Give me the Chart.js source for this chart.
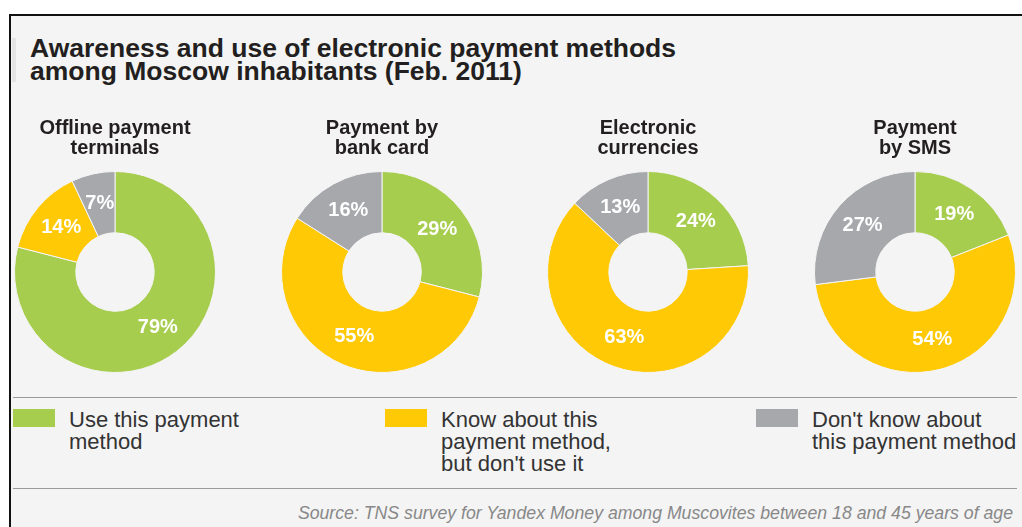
<!DOCTYPE html>
<html>
<head>
<meta charset="utf-8">
<script src="https://cdn.jsdelivr.net/npm/chart.js@4.4.1/dist/chart.umd.min.js"></script>
<style>
  body { margin: 0; width: 1022px; height: 527px; background: #fff; overflow: hidden;
         font-family: "Liberation Sans", Arial, sans-serif; }
  #frame { position: absolute; left: 9px; top: 14px; width: 1013px; height: 513px;
           border-top: 2px solid #111; border-left: 2px solid #111; background: #f4f4f4; }
  #mark { position: absolute; left: 12px; top: 38px; width: 4px; height: 44px; background: #e4e4e4; }
  #heading { position: absolute; left: 30px; top: 37px; margin: 0; font-size: 26.5px; line-height: 23px;
             font-weight: bold; color: #231f20; }
  .rule { position: absolute; left: 13px; width: 1004px; height: 1px; background: #9a9a9a; }
  .pie { position: absolute; top: 118px; }
  .key { position: absolute; top: 409px; }
  .key i { position: absolute; left: 0; top: 0; width: 42px; height: 18px; }
  .key span { position: absolute; left: 56px; top: 0; white-space: nowrap; font-size: 22px;
              line-height: 22px; color: #333; }
  #source { position: absolute; right: 9px; top: 503px; font-size: 17.7px; font-style: italic; color: #888; }
</style>
</head>
<body>
<div id="frame"></div>
<div id="mark"></div>
<h1 id="heading">Awareness and use of electronic payment methods<br>among Moscow inhabitants (Feb. 2011)</h1>
<div class="rule" style="top:397px"></div>
<div class="rule" style="top:488px"></div>
<div id="source">Source: TNS survey for Yandex Money among Muscovites between 18 and 45 years of age</div>

<script>
// Способы оплаты (подписи над кольцами)
const methods = [
    ['Offline payment', 'terminals'],
    ['Payment by', 'bank card'],
    ['Electronic', 'currencies'],
    ['Payment', 'by SMS']
];

// Доли ответов, %
const useShare = [79, 29, 24, 19];
const knowShare = [14, 55, 63, 54];
const unawareShare = [7, 16, 13, 27];

// Подписи легенды
const answers = [
    ['Use this payment', 'method'],
    ['Know about this', 'payment method,', "but don't use it"],
    ["Don't know about", 'this payment method']
];

const colors = ['#a6cd4e', '#ffc905', '#a7a8ac'];
const centersX = [115, 381.5, 648, 915];
const keyX = [13, 385, 756];

// Плагин для подписи процентов внутри сегментов
const percentLabels = {
    id: 'percentLabels',
    afterDatasetsDraw(chart) {
        const ctx = chart.ctx;
        const meta = chart.getDatasetMeta(0);
        const values = chart.data.datasets[0].data;
        ctx.save();
        ctx.fillStyle = '#ffffff';
        ctx.font = 'bold 20px "Liberation Sans", Arial, sans-serif';
        ctx.textAlign = 'center';
        ctx.textBaseline = 'middle';
        meta.data.forEach(function(arc, i) {
            const p = arc.getCenterPoint();
            ctx.fillText(values[i] + '%', p.x, p.y);
        });
        ctx.restore();
    }
};

methods.forEach(function(title, i) {
    const canvas = document.createElement('canvas');
    canvas.className = 'pie';
    canvas.width = 202;
    canvas.height = 255;
    canvas.style.left = (centersX[i] - 101) + 'px';
    document.body.appendChild(canvas);

    new Chart(canvas.getContext('2d'), {
        type: 'doughnut',
        data: {
            labels: answers.map(function(a) { return a.join(' '); }),
            datasets: [{
                data: [useShare[i], knowShare[i], unawareShare[i]],
                backgroundColor: colors,
                borderColor: '#f4f4f4',
                borderWidth: 1
            }]
        },
        options: {
            responsive: false,
            animation: false,
            cutout: '39%',
            layout: { padding: 0 },
            plugins: {
                legend: { display: false },
                tooltip: { enabled: false },
                title: {
                    display: true,
                    text: title,
                    color: '#231f20',
                    font: { family: '"Liberation Sans", Arial, sans-serif', size: 20, weight: 'bold', lineHeight: 1.0 },
                    padding: { top: 0, bottom: 13 }
                }
            }
        },
        plugins: [percentLabels]
    });
});

// Легенда под графиками
answers.forEach(function(lines, i) {
    const item = document.createElement('div');
    item.className = 'key';
    item.style.left = keyX[i] + 'px';
    item.innerHTML = '<i style="background:' + colors[i] + '"></i><span>' + lines.join('<br>') + '</span>';
    document.body.appendChild(item);
});
</script>
</body>
</html>
